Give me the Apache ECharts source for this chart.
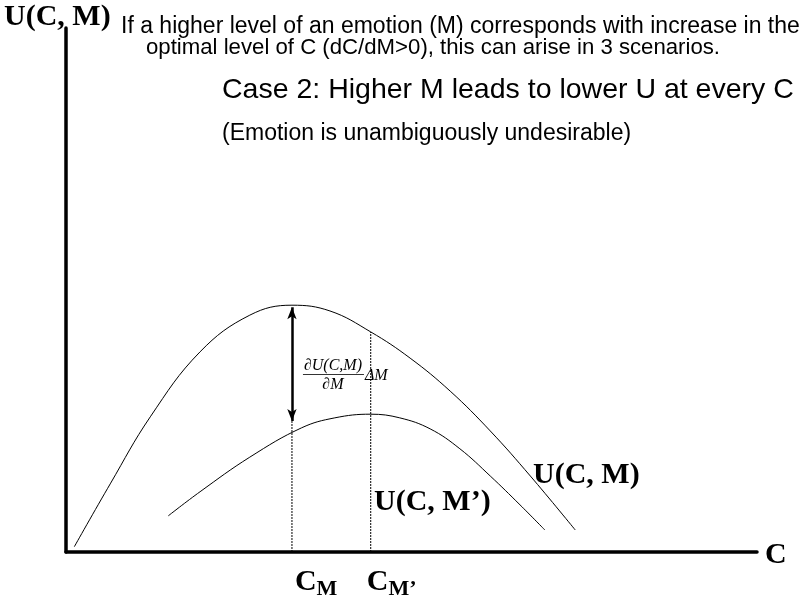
<!DOCTYPE html>
<html><head><meta charset="utf-8">
<script src="https://cdn.jsdelivr.net/npm/echarts@6/dist/echarts.min.js"></script>
<style>html,body{margin:0;padding:0;background:#fff}#c{width:809px;height:599px}</style>
</head><body><div id="c"></div>
<script>
// Utility U(C, M) (higher curve)
const upperC = [0.12, 0.64, 1.22, 1.94, 2.66, 3.27, 3.82, 4.41, 4.98, 5.56, 6.14, 6.72, 7.37];
const upperU = [0.10, 1.30, 2.58, 3.82, 4.52, 4.71, 4.60, 4.20, 3.70, 3.07, 2.31, 1.45, 0.42];
// Utility U(C, M') (lower curve)
const lowerC = [1.48, 1.94, 2.66, 3.41, 3.89, 4.41, 4.83, 5.27, 5.70, 6.14, 6.57, 6.93];
const lowerU = [0.69, 1.15, 1.81, 2.37, 2.56, 2.63, 2.56, 2.35, 1.97, 1.45, 0.90, 0.42];
// Optimal C levels and the vertical gap
const cM = 3.27, cMp = 4.41;
const peakUpper = 4.71, arrowBottom = 2.50, upperAtCMp = 4.20;
// Texts
const yAxisName = 'U(C, M)';
const xAxisName = 'C';
const note1 = 'If a higher level of an emotion (M) corresponds with increase in the';
const note2 = 'optimal level of C (dC/dM>0), this can arise in 3 scenarios.';
const caseTitle = 'Case 2: Higher M leads to lower U at every C';
const caseSub = '(Emotion is unambiguously undesirable)';
const upperName = 'U(C, M)';
const lowerName = 'U(C, M\u2019)';

const zip = (a, b) => a.map((v, i) => [v, b[i]]);
const chart = echarts.init(document.getElementById('c'), null, {renderer: 'canvas'});
const thin = {color: '#000', width: 1};
const serifB = 'bold 30px "Liberation Serif", "Times New Roman", serif';
const sans = '"Liberation Sans", Arial, sans-serif';

const option = {
  animation: false,
  backgroundColor: '#fff',
  grid: {left: 66, right: 52, top: 28, bottom: 47},
  xAxis: {type: 'value', min: 0, max: 10, axisLine: {show: true, lineStyle: {color: '#000', width: 3.5}},
    axisTick: {show: false}, axisLabel: {show: false}, splitLine: {show: false}},
  yAxis: {type: 'value', min: 0, max: 10, axisLine: {show: true, lineStyle: {color: '#000', width: 3.5}},
    axisTick: {show: false}, axisLabel: {show: false}, splitLine: {show: false}},
  series: [
    {type: 'line', data: zip(upperC, upperU), smooth: 0.4, showSymbol: false, lineStyle: thin, z: 3},
    {type: 'line', data: zip(lowerC, lowerU), smooth: 0.4, showSymbol: false, lineStyle: thin, z: 3},
    {type: 'line', data: [[cM, 0], [cM, arrowBottom]], showSymbol: false, lineStyle: {color: '#000', width: 1, type: [2, 1]}},
    {type: 'line', data: [[cMp, 0], [cMp, upperAtCMp]], showSymbol: false, lineStyle: {color: '#000', width: 1, type: [2, 1]}},
    {type: 'line', data: [], markLine: {silent: true, symbol: ['arrow', 'arrow'], symbolSize: [7, 12],
      label: {show: false}, lineStyle: {color: '#000', width: 2.5, type: 'solid'},
      data: [[{coord: [cM, peakUpper - 0.04]}, {coord: [cM, arrowBottom]}]]}}
  ]
};
chart.setOption(option);

const P = (c, u) => chart.convertToPixel({gridIndex: 0}, [c, u]);
const pM = P(cM, 0), pMp = P(cMp, 0);
const fracX = pM[0];
const txt = (x, y, text, font, extra) => Object.assign({type: 'text', x: x, y: y,
  style: Object.assign({text: text, font: font, fill: '#000', textVerticalAlign: 'middle'}, extra || {})});
const sub = {rich: {b: {font: serifB, fill: '#000'}, s: {font: 'bold 22px "Liberation Serif", serif', fill: '#000', padding: [14, 0, 0, 0]}}};
const mathF = 'italic 16px "Liberation Serif", serif';

chart.setOption({graphic: [
  txt(4, 17, yAxisName, serifB),
  txt(121, 27, note1, '23px ' + sans),
  txt(146, 48, note2, '22.2px ' + sans),
  txt(222, 90, caseTitle, '28.5px ' + sans),
  txt(222, 134, caseSub, '23px ' + sans),
  txt(765, 555, xAxisName, serifB),
  txt(pM[0] + 3, 582, '{b|C}{s|M}', null, sub),
  txt(pMp[0] - 4, 582, '{b|C}{s|M\u2019}', null, sub),
  txt(533, 475, upperName, serifB),
  txt(374, 502, lowerName, serifB),
  // derivative label
  txt(fracX + 41, 366, '\u2202U(C,M)', mathF, {textAlign: 'center'}),
  {type: 'line', shape: {x1: fracX + 11, y1: 374.5, x2: fracX + 72, y2: 374.5}, style: {stroke: '#000', lineWidth: 0.8}},
  txt(fracX + 41, 385, '\u2202M', mathF, {textAlign: 'center'}),
  txt(fracX + 73, 376, '\u0394M', mathF)
]});
</script>
</body></html>
